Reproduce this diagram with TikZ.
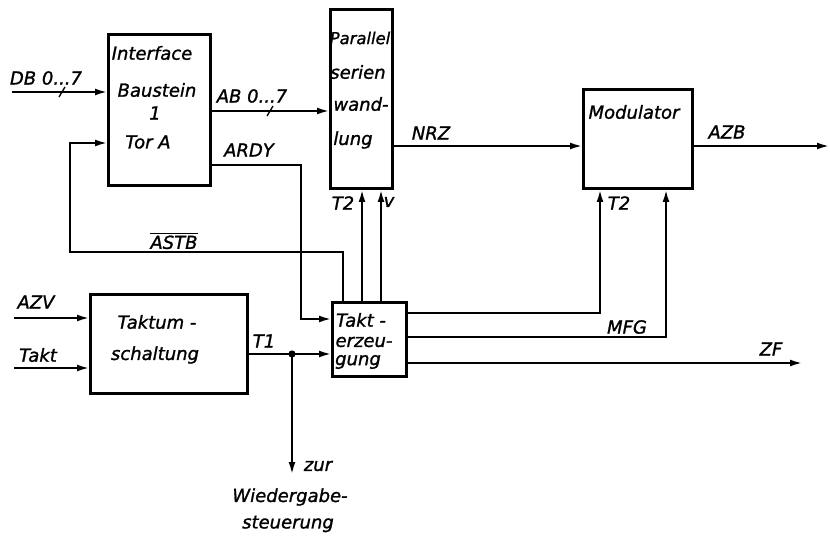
\documentclass[tikz,border=0pt]{standalone}
\usepackage{fontspec}
\setmainfont{DejaVu Sans}[ItalicFeatures={FakeBold=1.2}]
\usetikzlibrary{arrows.meta}
\begin{document}
\begin{tikzpicture}[x=0.75pt,y=-0.75pt,
  blk/.style={draw, line width=2.2pt, inner sep=0pt, anchor=north west},
  conn/.style={line width=1.4pt},
  arr/.style={conn, -{Latex[length=9pt,width=5.2pt]}},
  lbl/.style={font=\itshape\fontsize{13.5}{15}\selectfont, inner sep=0pt},
  slash/.style={line width=1pt}]
\fill[white] (0,0) rectangle (830,541);
\useasboundingbox (0,0) rectangle (830,541);

% blocks
\node[blk, minimum width=76.5pt, minimum height=113.25pt] (ifc) at (107,33) {};
\node[blk, minimum width=46.5pt, minimum height=134.25pt] (par) at (329,8) {};
\node[blk, minimum width=81.75pt, minimum height=74.25pt] (mod) at (582,88) {};
\node[blk, minimum width=117.75pt, minimum height=74.25pt] (tum) at (89,293) {};
\node[blk, minimum width=55.5pt, minimum height=55.5pt] (tkt) at (331,301) {};

% texts inside blocks
\node[lbl] (t1a) at (152,53) {Interface};
\node[lbl] (t1b) at (157,90) {Baustein};
\node[lbl] (t1c) at (155,113) {1};
\node[lbl] (t1d) at (148,142) {Tor A};
\node[lbl, font=\itshape\fontsize{12.3}{14}\selectfont] (t2a) at (360,38) {Parallel};
\node[lbl] (t2b) at (358,72) {serien};
\node[lbl] (t2c) at (361,104) {wand-};
\node[lbl] (t2d) at (353,140) {lung};
\node[lbl] (t3a) at (634,112) {Modulator};
\node[lbl] (t4a) at (157,322) {Taktum -};
\node[lbl] (t4b) at (155,355) {schaltung};
\node[lbl] (t5a) at (361,320) {Takt -};
\node[lbl] (t5b) at (364,342) {erzeu-};
\node[lbl] (t5c) at (358,362) {gung};

% coordinates
\coordinate (dbin) at (12,92);
\coordinate (about) at (209,111);
\coordinate (nrz) at (391,146);
\coordinate (azbend) at (829,146);
\coordinate (astb1) at (343,252);
\coordinate (astb2) at (70,252);
\coordinate (astb3) at (70,143);
\coordinate (ardy0) at (209,165);
\coordinate (ardy1) at (301,165);
\coordinate (ardy2) at (301,319);
\coordinate (tp2) at (362,301);
\coordinate (tpv) at (381,301);
\coordinate (m1) at (405,313);
\coordinate (m1c) at (600,313);
\coordinate (m2) at (405,337);
\coordinate (m2c) at (666,337);
\coordinate (zf0) at (405,363);
\coordinate (zf1) at (802,363);
\coordinate (azv) at (14,318);
\coordinate (takt) at (14,368);
\coordinate (t1s) at (246,354);
\coordinate (dot) at (292,354);
\coordinate (zur) at (292,474);

% connectors
\draw[arr] (dbin) -- (dbin -| ifc.west);
\draw[slash] (59,97) -- (65,87);
\draw[arr] (about) -- (about -| par.west);
\draw[slash] (267,116) -- (273,106);
\draw[arr] (nrz) -- (nrz -| mod.west);
\draw[arr] (nrz -| mod.east) -- (azbend);
\draw[arr] (astb1 |- tkt.north) -- (astb1) -- (astb2) -- (astb3) -- (astb3 -| ifc.west);
\draw[arr] (ardy0) -- (ardy1) -- (ardy2) -- (ardy2 -| tkt.west);
\draw[arr] (tp2) -- (tp2 |- par.south);
\draw[arr] (tpv) -- (tpv |- par.south);
\draw[arr] (m1) -- (m1c) -- (m1c |- mod.south);
\draw[arr] (m2) -- (m2c) -- (m2c |- mod.south);
\draw[arr] (zf0) -- (zf1);
\draw[arr] (azv) -- (azv -| tum.west);
\draw[arr] (takt) -- (takt -| tum.west);
\draw[arr] (t1s) -- (t1s -| tkt.west);
\fill (dot) circle (3.6);
\draw[arr] (dot) -- (zur);

% connector labels
\node[lbl] (lDB) at (46,78) {DB 0...7};
\node[lbl] (lAB) at (252,96) {AB 0...7};
\node[lbl] (lARDY) at (249,150) {ARDY};
\node[lbl] (lASTB) at (174,241) {$\overline{\mbox{ASTB}}$};
\node[lbl] (lNRZ) at (431,133) {NRZ};
\node[lbl] (lAZB) at (727,132) {AZB};
\node[lbl] (lT2a) at (343,203) {T2};
\node[lbl] (lv) at (389,202) {v};
\node[lbl] (lT2b) at (619,203) {T2};
\node[lbl] (lMFG) at (627,327) {MFG};
\node[lbl] (lZF) at (771,349) {ZF};
\node[lbl] (lAZV) at (36,302) {AZV};
\node[lbl] (lTakt) at (38,355) {Takt};
\node[lbl] (lT1) at (264,341) {T1};
\node[lbl] (lzur) at (318,466) {zur};
\node[lbl] (lW) at (290,497) {Wiedergabe-};
\node[lbl] (ls) at (288,524) {steuerung};
\end{tikzpicture}
\end{document}
